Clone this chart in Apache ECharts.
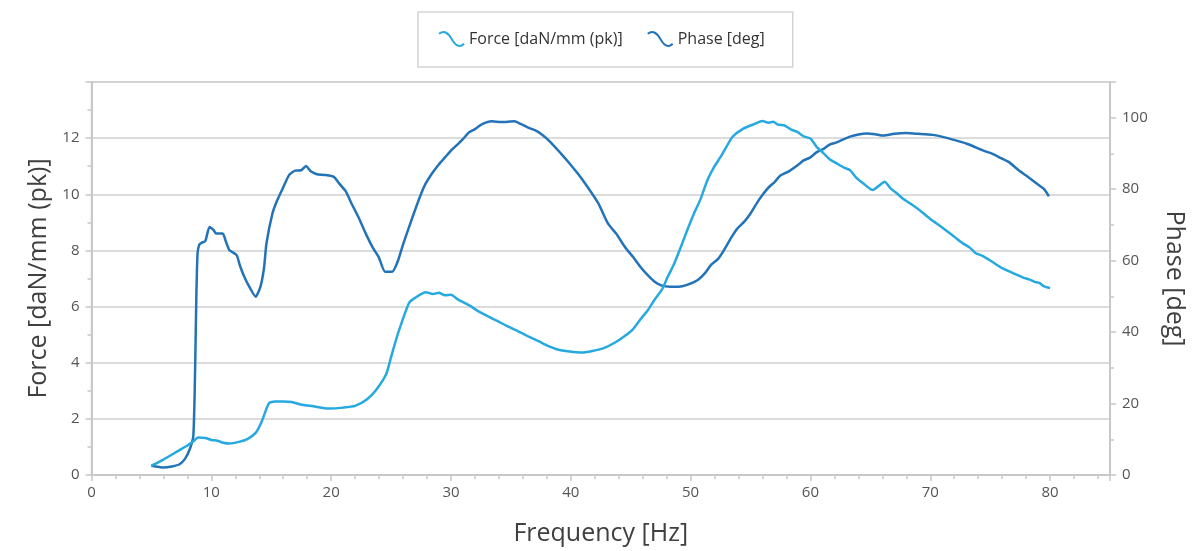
<!DOCTYPE html>
<html>
<head>
<meta charset="utf-8">
<script src="https://cdn.jsdelivr.net/npm/echarts@6/dist/echarts.min.js"></script>
<style>
html,body{margin:0;padding:0;background:#fff;}
#chart{width:1195px;height:551px;}
</style>
</head>
<body>
<div id="chart"></div>
<script>
// ---- Data ----
const forceFreq = [5.0,6.0,7.0,8.0,8.5,8.9,9.5,10.0,10.5,11.0,11.5,12.3,13.0,13.7,14.2,14.8,15.3,16.0,16.7,17.6,18.5,19.8,21.0,22.0,23.0,23.7,24.6,25.0,25.6,26.5,27.0,27.9,28.5,29.0,29.5,30.0,30.6,31.5,32.3,33.1,33.9,34.7,35.6,36.4,37.3,38.1,38.9,39.9,40.9,41.8,42.8,43.7,44.5,45.2,45.8,46.4,47.0,47.6,48.1,48.6,49.2,49.7,50.3,50.8,51.4,52.0,52.5,53.0,53.5,54.4,55.3,56.0,56.5,56.9,57.3,57.8,58.4,58.9,59.5,60.0,60.5,61.1,61.6,62.2,62.8,63.3,63.8,64.4,65.2,65.7,66.2,66.7,67.2,67.7,68.3,68.9,69.4,70.0,70.5,71.1,71.6,72.2,72.7,73.3,73.8,74.4,74.9,75.5,76.0,76.6,77.2,77.8,78.3,78.7,79.1,79.5,80.0];
const forceVal = [0.33,0.55,0.8,1.05,1.2,1.34,1.32,1.25,1.22,1.15,1.12,1.18,1.28,1.5,1.9,2.55,2.62,2.62,2.6,2.5,2.45,2.37,2.4,2.46,2.7,3.0,3.6,4.2,5.07,6.13,6.31,6.51,6.45,6.49,6.4,6.42,6.25,6.05,5.83,5.65,5.48,5.3,5.12,4.95,4.77,4.6,4.47,4.4,4.36,4.42,4.53,4.72,4.95,5.2,5.54,5.85,6.25,6.6,7.07,7.5,8.14,8.7,9.33,9.8,10.5,11.0,11.33,11.7,12.05,12.34,12.5,12.61,12.55,12.58,12.48,12.46,12.3,12.22,12.05,11.99,11.7,11.46,11.25,11.1,10.95,10.86,10.6,10.39,10.15,10.3,10.45,10.2,10.04,9.85,9.68,9.5,9.33,9.12,8.97,8.78,8.62,8.42,8.26,8.1,7.9,7.8,7.67,7.5,7.37,7.25,7.14,7.02,6.96,6.88,6.84,6.72,6.66];

const phaseFreq = [5.0,6.0,6.7,7.35,7.8,8.2,8.5,8.65,8.75,8.85,9.0,9.2,9.5,9.85,10.2,10.4,10.95,11.2,11.5,12.1,12.4,12.75,13.2,13.7,14.1,14.4,14.6,15.1,15.5,16.0,16.5,17.0,17.5,17.9,18.3,18.8,19.5,20.2,20.7,21.2,21.7,22.3,22.9,23.5,23.97,24.5,25.1,25.6,26.0,26.5,27.3,27.8,28.4,29.0,29.5,30.0,30.6,31.0,31.5,32.0,32.6,33.4,34.2,35.3,35.8,36.4,37.0,37.5,38.3,39.2,39.9,40.6,41.4,42.3,43.1,43.8,44.5,45.2,45.8,46.4,47.0,47.6,48.3,49.0,49.7,50.6,51.2,51.7,52.3,52.8,53.4,53.9,54.5,55.0,55.7,56.4,57.0,57.5,58.2,58.9,59.4,60.0,60.5,61.1,61.6,62.2,62.8,63.3,64.0,64.7,65.4,66.1,67.0,68.0,69.0,70.2,71.2,72.2,73.0,73.8,74.5,75.2,75.9,76.6,77.3,78.0,78.6,79.1,79.5,79.9];
const phaseVal = [2.6,2.1,2.4,3.0,4.5,7.2,11,30,50,62,64.5,65,65.5,69.4,68.5,67.6,67.6,65.5,63,61.6,58.5,55.5,52.5,49.9,52.7,58,64.8,73.2,76.9,80.5,84,85.2,85.3,86.5,85,84.2,84,83.5,81.5,79.5,76,72,67.5,63.5,61,56.9,56.9,60.2,64.5,69.4,76.9,81,84.3,87,88.9,90.8,92.7,94,95.9,96.8,98.2,99,98.8,99,98.3,97.3,96.5,95.5,93.2,89.9,87.2,84.3,80.6,76,70.4,67.5,63.9,61,58.3,56,54.1,53,52.7,52.7,53.2,54.6,56.5,58.8,60.5,63,66.5,69,71,73.2,77,80.1,82,83.8,85,86.6,88,88.9,90.3,91.3,92.5,93.1,94,94.7,95.3,95.6,95.4,95,95.5,95.7,95.5,95.2,94.5,93.6,92.8,91.7,90.7,89.9,88.7,87.5,85.5,83.8,82.3,81,80,78];

const seriesNames = ['Force [daN/mm (pk)]', 'Phase [deg]'];
const axisNames = { x: 'Frequency [Hz]', left: 'Force [daN/mm (pk)]', right: 'Phase [deg]' };
const forceColor = '#26a9e0';
const phaseColor = '#2273b7';

const forceData = forceFreq.map((f, i) => [f, forceVal[i]]);
const phaseData = phaseFreq.map((f, i) => [f, phaseVal[i]]);

const FONT = 'Open Sans';
const wave = 'path://M0,2 C4,-1 7,1 10,6 C13,11 16,14 20,10';

const chart = echarts.init(document.getElementById('chart'), null, { renderer: 'canvas' });
chart.setOption({
  animation: false,
  backgroundColor: '#fff',
  textStyle: { fontFamily: FONT },
  legend: {
    top: 12,
    left: 418,
    padding: [19, 28, 20, 20],
    borderColor: '#d4d4d4',
    borderWidth: 1.5,
    itemGap: 24,
    itemWidth: 25,
    itemHeight: 15,
    textStyle: { fontFamily: FONT, fontSize: 16, color: '#333' },
    data: [
      { name: seriesNames[0], icon: wave, itemStyle: { color: 'transparent', borderColor: forceColor, borderWidth: 2 } },
      { name: seriesNames[1], icon: wave, itemStyle: { color: 'transparent', borderColor: phaseColor, borderWidth: 2 } }
    ]
  },
  grid: {
    left: 91.5, right: 80, top: 82, bottom: 75,
    show: true, borderColor: '#d0d0d0', borderWidth: 1.5, backgroundColor: '#fff'
  },
  xAxis: {
    type: 'value', min: 0, max: 85, interval: 10,
    name: axisNames.x, nameLocation: 'middle', nameGap: 46,
    nameTextStyle: { fontFamily: FONT, fontSize: 25, color: '#404040' },
    axisLine: { lineStyle: { color: '#c8c8c8', width: 2 } },
    axisTick: { show: true, length: 6, lineStyle: { color: '#c8c8c8', width: 1.5 } },
    minorTick: { show: true, splitNumber: 5, length: 4, lineStyle: { color: '#c8c8c8', width: 1.5 } },
    splitLine: { show: false },
    axisLabel: { fontFamily: FONT, fontSize: 15, color: '#555', margin: 10, showMaxLabel: false }
  },
  yAxis: [
    {
      type: 'value', min: 0, max: 14, interval: 2, position: 'left',
      name: axisNames.left, nameLocation: 'middle', nameGap: 40,
      nameTextStyle: { fontFamily: FONT, fontSize: 25, color: '#404040' },
      axisLine: { show: true, lineStyle: { color: '#c8c8c8', width: 2 } },
      axisTick: { show: true, length: 6, lineStyle: { color: '#c8c8c8', width: 1.5 } },
      minorTick: { show: true, splitNumber: 2, length: 4, lineStyle: { color: '#c8c8c8', width: 1.5 } },
      splitLine: { show: true, lineStyle: { color: '#d0d0d0', width: 1.5 } },
      axisLabel: { fontFamily: FONT, fontSize: 15, color: '#555', margin: 12, showMaxLabel: false }
    },
    {
      type: 'value', min: 0, max: 110, interval: 20, position: 'right',
      name: axisNames.right, nameLocation: 'middle', nameGap: 52, nameRotate: -90,
      nameTextStyle: { fontFamily: FONT, fontSize: 25, color: '#404040' },
      axisLine: { show: true, lineStyle: { color: '#c8c8c8', width: 2 } },
      axisTick: { show: true, length: 6, lineStyle: { color: '#c8c8c8', width: 1.5 } },
      minorTick: { show: true, splitNumber: 2, length: 4, lineStyle: { color: '#c8c8c8', width: 1.5 } },
      splitLine: { show: false },
      axisLabel: { fontFamily: FONT, fontSize: 15, color: '#555', margin: 12, showMaxLabel: false }
    }
  ],
  series: [
    {
      name: seriesNames[0], type: 'line', yAxisIndex: 0, data: forceData,
      showSymbol: false, symbol: 'none', smooth: 0.2,
      lineStyle: { color: forceColor, width: 2.5 }, itemStyle: { color: forceColor }, z: 3
    },
    {
      name: seriesNames[1], type: 'line', yAxisIndex: 1, data: phaseData,
      showSymbol: false, symbol: 'none', smooth: 0.2,
      lineStyle: { color: phaseColor, width: 2.5 }, itemStyle: { color: phaseColor }, z: 2
    }
  ]
});
</script>
</body>
</html>
